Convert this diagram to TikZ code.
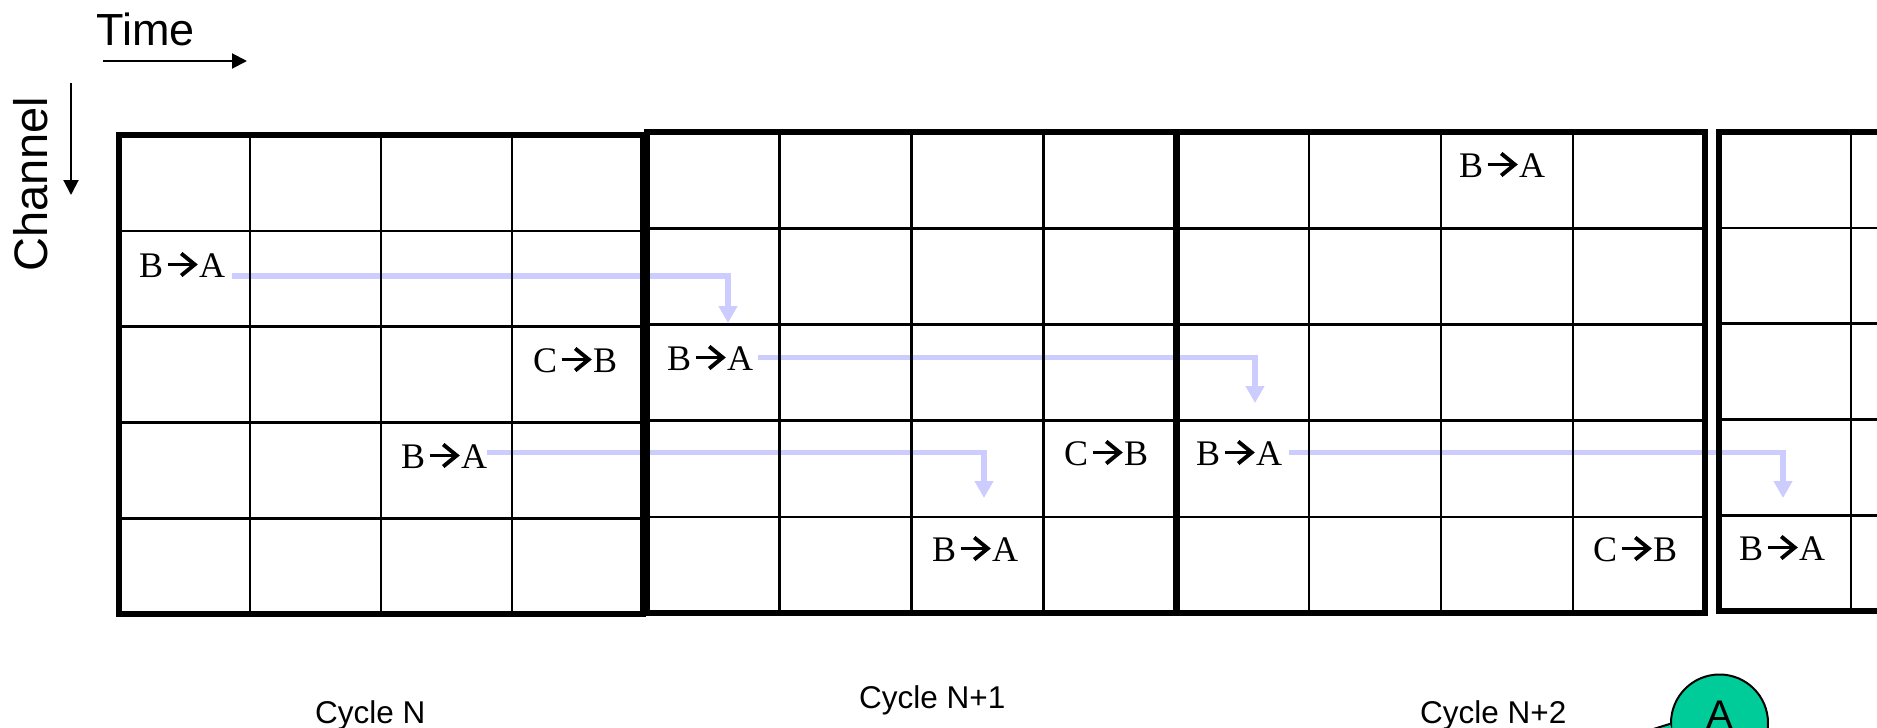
\documentclass[tikz,border=0pt]{standalone}
\usepackage{fontspec}
\setmainfont{Liberation Serif}
\newfontfamily\arialfont{Liberation Sans}
\usetikzlibrary{arrows.meta}
\definecolor{lav}{RGB}{204,204,255}
\definecolor{calloutgreen}{RGB}{0,204,153}
\newcommand\rarr{\tikz[x=1pt,y=1pt,baseline=0pt]{\useasboundingbox (0,0) rectangle (30,25); \draw[line width=3.9pt,line cap=butt] (0.5,12.5) -- (27,12.5); \draw[line width=3.9pt,line join=miter] (14,23.5) -- (27.5,12.5) -- (14,1.5);}}
\newcommand\BtoA{B\kern4pt\rarr\kern2pt A}
\newcommand\CtoB{C\kern4pt\rarr\kern2pt B}
\begin{document}
\begin{tikzpicture}[x=1pt,y=-1pt,
  celltext/.style={anchor=base west, inner sep=0pt, font=\fontsize{36}{40}\selectfont},
  axislabel/.style={anchor=base west, inner sep=0pt, font=\arialfont\fontsize{45}{50}\selectfont},
  cyclelabel/.style={anchor=base west, inner sep=0pt, font=\arialfont\fontsize{31.5}{36}\selectfont},
  axisarrow/.style={line width=2pt, -{Triangle[width=15pt,length=15pt]}},
  hop/.style={draw=lav, line width=5.5pt, -{Triangle[width=18pt,length=17pt]}, fill=none},
  gridthin/.style={line width=2.6pt},
  gridthick/.style={line width=6.5pt},
  callout/.style={circle, minimum size=97pt, inner sep=0pt, fill=calloutgreen, draw=black, line width=2pt,
     font=\arialfont\fontsize{40}{44}\selectfont, text depth=17pt}
]
\useasboundingbox (0,0) rectangle (1877,728);
\clip (0,0) rectangle (1877,728);
\fill[white] (0,0) rectangle (1877,728);

% axis labels and arrows
\node[axislabel] (time) at (96,45) {Time};
\coordinate (timeS) at (103,61);
\coordinate (timeE) at (247,61);
\draw[axisarrow] (timeS) -- (timeE);
\node[axislabel, font=\arialfont\fontsize{47}{52}\selectfont, rotate=90] (channel) at (47,272) {Channel};
\coordinate (chanS) at (71,83);
\coordinate (chanE) at (71,195);
\draw[axisarrow] (chanS) -- (chanE);

% cell labels
\node[celltext] (l1) at (139,277) {\BtoA};
\node[celltext] (l2) at (533,372) {\CtoB};
\node[celltext] (l3) at (401,468) {\BtoA};
\node[celltext] (l4) at (667,370) {\BtoA};
\node[celltext] (l5) at (932,561) {\BtoA};
\node[celltext] (l6) at (1064,465) {\CtoB};
\node[celltext] (l7) at (1459,177) {\BtoA};
\node[celltext] (l8) at (1196,465) {\BtoA};
\node[celltext] (l9) at (1593,561) {\CtoB};
\node[celltext] (l10) at (1739,560) {\BtoA};

% cycle labels
\node[cyclelabel] (cycN) at (315,723) {Cycle N};
\node[cyclelabel] (cycN1) at (859,708) {Cycle N+1};
\node[cyclelabel] (cycN2) at (1420,723) {Cycle N+2};

% hop arrows (under the grid)
\coordinate (t1) at (728,323);
\coordinate (t2) at (1255,403);
\coordinate (t3) at (984,498);
\coordinate (t4) at (1783,498);
\draw[hop] ([xshift=7pt,yshift=1pt]l1.base east) -| (t1);
\draw[hop] ([xshift=5pt]l4.east) -| (t2);
\draw[hop] ([yshift=3pt]l3.east) -| (t3);
\draw[hop] ([xshift=7pt]l8.east) -| (t4);

% grids
\foreach \gl/\gt/\gr/\gb in {119/135/643/614, 647/132/1176/613, 1177/132/1705/613, 1719/132/2247/611}{
  \pgfmathsetmacro\cw{(\gr-\gl)/4}
  \pgfmathsetmacro\rh{(\gb-\gt)/5}
  \foreach \k in {1,2,3} {\draw[gridthin] ({\gl+\k*\cw},\gt) -- ({\gl+\k*\cw},\gb);}
  \foreach \k in {1,2,3,4} {\draw[gridthin] (\gl,{\gt+\k*\rh}) -- (\gr,{\gt+\k*\rh});}
  \draw[gridthick] (\gl,\gt) rectangle (\gr,\gb);
}

% callout A
\node[callout] (ca) at (1719.5,723) {A};
\coordinate (tailtip) at (1560,758);
\fill[calloutgreen] (tailtip) -- (ca.181) -- (ca.215) -- cycle;
\draw[line width=2pt] (ca.181) -- (tailtip) -- (ca.215);
\end{tikzpicture}
\end{document}
